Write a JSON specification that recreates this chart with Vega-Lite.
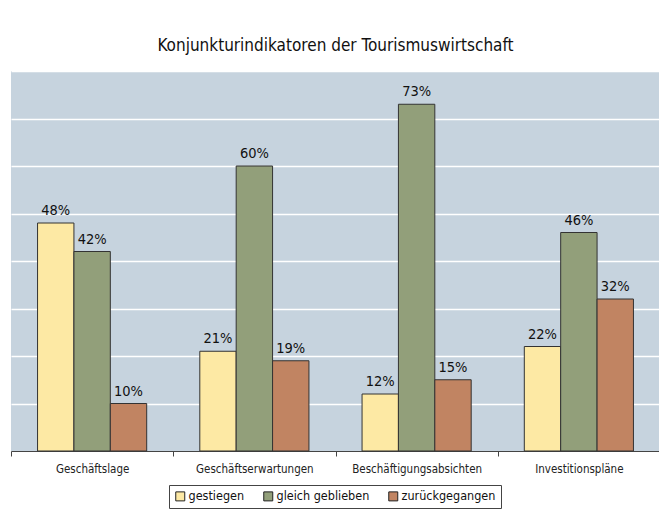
{
  "$schema": "https://vega.github.io/schema/vega-lite/v6.json",
  "width": 649,
  "height": 380,
  "padding": {"left": 10, "top": 37, "right": 0, "bottom": 0},
  "background": "white",
  "title": {
    "text": "Konjunkturindikatoren der Tourismuswirtschaft",
    "font": "DejaVu Sans Condensed",
    "fontSize": 17,
    "fontWeight": "normal",
    "color": "#111",
    "offset": 16
  },
  "data": {
    "values": [
      {"kategorie": "Geschäftslage", "status": "gestiegen", "anteil": 0.48},
      {"kategorie": "Geschäftslage", "status": "gleich geblieben", "anteil": 0.42},
      {"kategorie": "Geschäftslage", "status": "zurückgegangen", "anteil": 0.10},
      {"kategorie": "Geschäftserwartungen", "status": "gestiegen", "anteil": 0.21},
      {"kategorie": "Geschäftserwartungen", "status": "gleich geblieben", "anteil": 0.60},
      {"kategorie": "Geschäftserwartungen", "status": "zurückgegangen", "anteil": 0.19},
      {"kategorie": "Beschäftigungsabsichten", "status": "gestiegen", "anteil": 0.12},
      {"kategorie": "Beschäftigungsabsichten", "status": "gleich geblieben", "anteil": 0.73},
      {"kategorie": "Beschäftigungsabsichten", "status": "zurückgegangen", "anteil": 0.15},
      {"kategorie": "Investitionspläne", "status": "gestiegen", "anteil": 0.22},
      {"kategorie": "Investitionspläne", "status": "gleich geblieben", "anteil": 0.46},
      {"kategorie": "Investitionspläne", "status": "zurückgegangen", "anteil": 0.32}
    ]
  },
  "encoding": {
    "x": {
      "field": "kategorie",
      "type": "nominal",
      "sort": null,
      "scale": {"paddingInner": 0, "paddingOuter": 0},
      "axis": {
        "title": null,
        "labelAngle": 0,
        "labelFont": "DejaVu Sans Condensed",
        "labelFontSize": 11.5,
        "labelColor": "#222",
        "labelPadding": 7,
        "domainColor": "#444",
        "tickColor": "#444",
        "tickSize": 5,
        "tickBand": "extent"
      }
    },
    "xOffset": {
      "field": "status",
      "type": "nominal",
      "scale": {"paddingInner": 0, "paddingOuter": 0.73}
    },
    "y": {
      "field": "anteil",
      "type": "quantitative",
      "scale": {"domain": [0, 0.8], "nice": false},
      "axis": {
        "title": null,
        "values": [0.1, 0.2, 0.3, 0.4, 0.5, 0.6, 0.7, 0.8],
        "grid": true,
        "gridColor": "white",
        "gridWidth": 1.5,
        "gridOpacity": 1,
        "domain": false,
        "ticks": false,
        "labels": false
      }
    }
  },
  "layer": [
    {
      "mark": {"type": "bar", "stroke": "#333", "strokeWidth": 1},
      "encoding": {
        "color": {
          "field": "status",
          "type": "nominal",
          "scale": {
            "domain": ["gestiegen", "gleich geblieben", "zurückgegangen"],
            "range": ["#fde9a4", "#929f7a", "#c18462"]
          },
          "legend": {
            "title": null,
            "orient": "none",
            "legendX": 158,
            "legendY": 414,
            "direction": "horizontal",
            "symbolType": "square",
            "symbolSize": 81,
            "symbolStrokeColor": "#222",
            "symbolStrokeWidth": 1,
            "symbolOpacity": 1,
            "labelFont": "DejaVu Sans Condensed",
            "labelFontSize": 12.5,
            "labelColor": "#111",
            "labelOffset": 2,
            "columnPadding": 16,
            "strokeColor": "#444",
            "fillColor": "white",
            "padding": 5
          }
        }
      }
    },
    {
      "mark": {"type": "text", "baseline": "alphabetic", "dy": -8, "font": "DejaVu Sans Condensed", "fontSize": 14.5, "color": "#111"},
      "encoding": {
        "text": {"field": "anteil", "type": "quantitative", "format": ".0%"}
      }
    }
  ],
  "config": {
    "view": {"fill": "#c6d3de", "stroke": null}
  }
}
